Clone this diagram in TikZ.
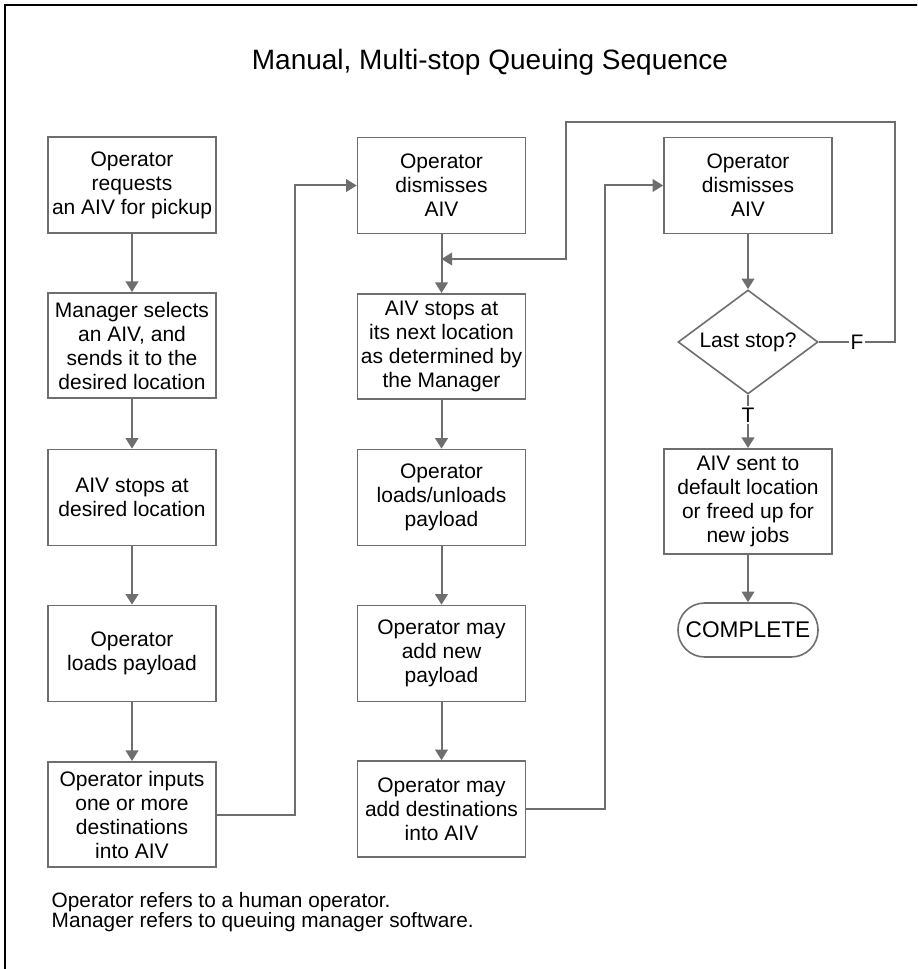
\documentclass[tikz,border=0pt]{standalone}
\usepackage{fontspec}
\setmainfont{Liberation Sans}
\usetikzlibrary{arrows.meta,shapes.geometric}
\definecolor{linegray}{HTML}{6E6E6E}
\newcommand{\boxfont}{\fontsize{15.75}{18}\selectfont}
\newcommand{\titlefont}{\fontsize{21}{25}\selectfont}
\newcommand{\notefont}{\fontsize{15.6}{18}\selectfont}
\begin{document}
\begin{tikzpicture}[x=0.75pt,y=-0.75pt,
  box/.style={draw=linegray, line width=1.2pt, fill=white, minimum width=126pt,
    minimum height=72pt, align=center, inner sep=2pt, font=\boxfont, text=black},
  tallbox/.style={box, minimum height=79pt},
  arr/.style={draw=linegray, line width=1.5pt, -{Triangle[width=9.5pt,length=8pt]}},
  lbl/.style={fill=white, inner sep=1.5pt, font=\boxfont, text=black}]
\useasboundingbox (0,0) rectangle (917,969);
\clip (0,0) rectangle (917,969);
\draw[line width=1.8pt, black] (5,5) rectangle (960,1000);

\node[font=\titlefont] (title) at (490,62) {Manual, Multi-stop Queuing Sequence};

% column 1
\node[box] (b1) at (132,185) {Operator\\requests\\an AIV for pickup};
\node[tallbox] (b2) at (132,345.5) {Manager selects\\an AIV, and\\sends it to the\\desired location};
\node[box] (b3) at (132,497.5) {AIV stops at\\desired location};
\node[box] (b4) at (132,653.5) {Operator\\loads payload};
\node[tallbox] (b5) at (132,814.5) {Operator inputs\\one or more\\destinations\\into AIV};

% column 2
\node[box] (b6) at (441.5,185.5) {Operator\\dismisses\\AIV};
\node[tallbox] (b7) at (441.5,346.5) {AIV stops at\\its next location\\as determined by\\the Manager};
\node[box] (b8) at (441.5,497.5) {Operator\\loads/unloads\\payload};
\node[box] (b9) at (441.5,653.5) {Operator may\\add new\\payload};
\node[box] (b10) at (441.5,809) {Operator may\\add destinations\\into AIV};

% column 3
\node[box] (b11) at (748,185.5) {Operator\\dismisses\\AIV};
\node[diamond, draw=linegray, line width=1.2pt, fill=white, minimum width=105pt,
  minimum height=78pt, inner sep=0pt, aspect=1.35, font=\boxfont] (d) at (748,342) {Last stop?};
\node[tallbox] (b12) at (748,501.5) {AIV sent to\\default location\\or freed up for\\new jobs};
\node[draw=linegray, line width=1.2pt, rounded corners=20pt, minimum width=105pt,
  minimum height=40.5pt, inner sep=1pt, font=\fontsize{17}{18}\selectfont] (c) at (748,630) {COMPLETE};

\coordinate (m) at (441.5,259);

% connectors
\draw[arr] (b1) -- (b2);
\draw[arr] (b2) -- (b3);
\draw[arr] (b3) -- (b4);
\draw[arr] (b4) -- (b5);
\draw[arr] (b5.east) -- ++(78,0) |- (b6.west);
\draw[arr] (b6) -- (b7);
\draw[arr] (b7) -- (b8);
\draw[arr] (b8) -- (b9);
\draw[arr] (b9) -- (b10);
\draw[arr] (b10.east) -- ++(78.5,0) |- (b11.west);
\draw[arr] (b11) -- (d);
\draw[arr] (d.south) -- node[lbl, pos=0.38] {T} (b12.north);
\draw[arr] (b12) -- (c);
\draw[arr] (d.east) -- node[lbl] {F} (895,342) -- (895,122) -- (566,122) -- (566,259) -- (m);

\node[font=\notefont, anchor=base west] (n1) at (47,907) {Operator refers to a human operator.};
\node[font=\notefont, anchor=base west] (n2) at (47,927) {Manager refers to queuing manager software.};
\end{tikzpicture}
\end{document}
